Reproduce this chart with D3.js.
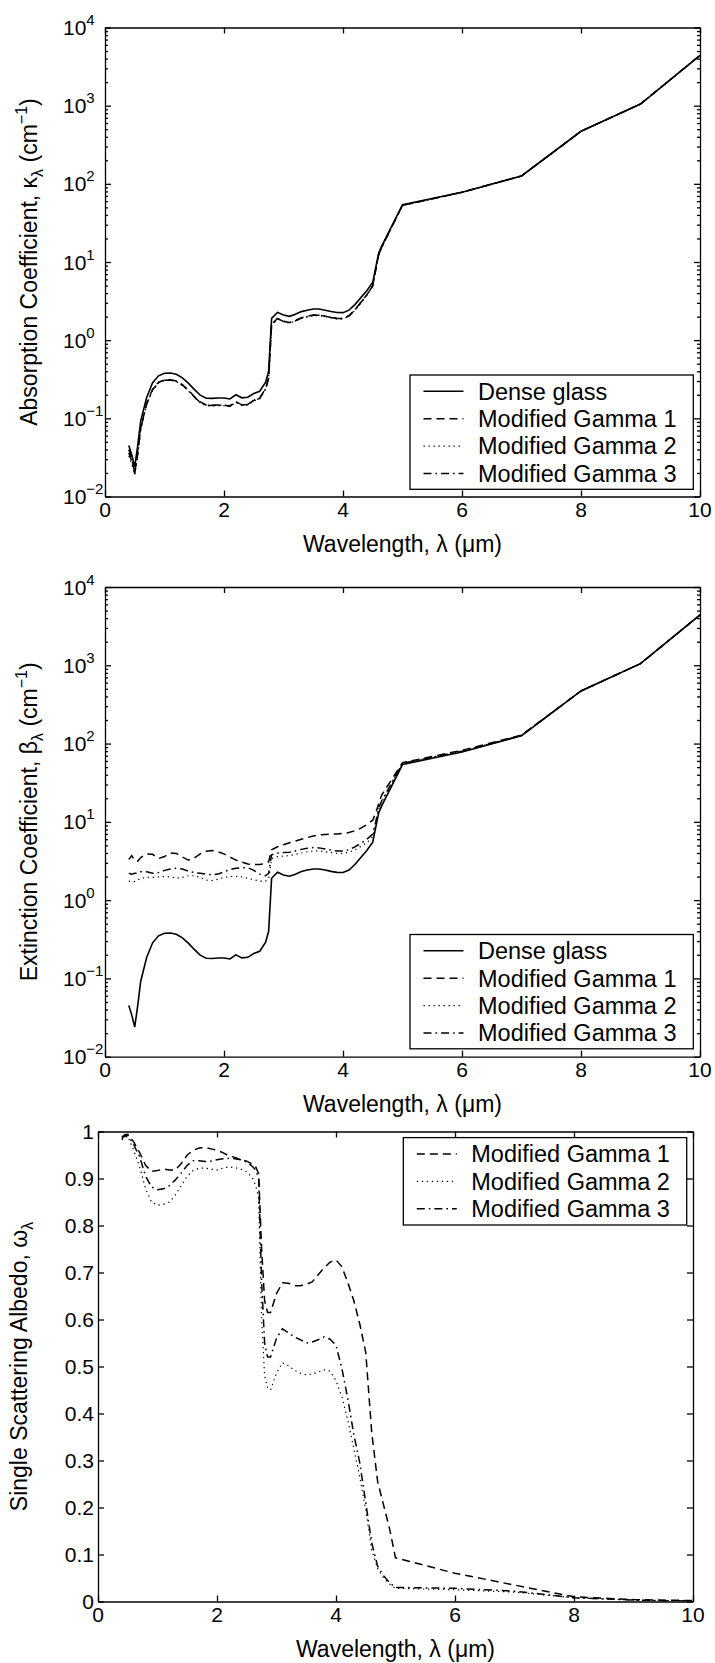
<!DOCTYPE html>
<html><head><meta charset="utf-8">
<script src="https://cdn.jsdelivr.net/npm/d3@7"></script>
<style>
body{margin:0;background:#fff}
svg text{font-family:"Liberation Sans",Arial,Helvetica,sans-serif;fill:#000}
</style>
</head><body>
<svg id="chart" width="715" height="1663"></svg>
<script>
// ---------- data ----------
const wavelength = [0.4,0.45,0.5,0.55,0.6,0.7,0.8,0.9,1.0,1.1,1.2,1.3,1.4,1.5,1.6,1.7,1.8,1.9,2.0,2.1,2.2,2.3,2.4,2.5,2.6,2.7,2.75,2.8,2.9,3.0,3.1,3.2,3.3,3.4,3.5,3.6,3.7,3.8,3.9,4.0,4.1,4.2,4.3,4.4,4.5,4.55,4.6,4.65,5.0,6,7,8,9,10];

// Dense glass: absorption = extinction (no scattering)
const denseGlass = [0.045,0.034,0.024,0.045,0.092,0.185,0.285,0.35,0.378,0.38,0.366,0.33,0.282,0.235,0.198,0.181,0.18,0.182,0.182,0.177,0.2,0.183,0.186,0.208,0.222,0.29,0.4,1.9,2.27,2.1,2.02,2.14,2.32,2.42,2.5,2.5,2.42,2.33,2.26,2.25,2.42,2.85,3.5,4.3,5.5,8.5,13,16,54,78,126,470,1050,4400];

const absorptionMG1 = [0.04,0.03,0.02,0.036,0.075,0.155,0.235,0.29,0.31,0.312,0.3,0.27,0.23,0.19,0.162,0.148,0.147,0.148,0.148,0.144,0.163,0.149,0.151,0.17,0.182,0.24,0.33,1.6,1.9,1.75,1.68,1.78,1.93,2.02,2.1,2.1,2.03,1.96,1.9,1.9,2.05,2.45,3.05,3.8,5.0,8.0,12.5,15.5,53,78,126,470,1050,4400];
const absorptionMG2 = [0.033,0.026,0.019,0.034,0.072,0.15,0.228,0.283,0.304,0.306,0.294,0.264,0.225,0.186,0.158,0.145,0.144,0.145,0.145,0.141,0.16,0.146,0.148,0.167,0.178,0.235,0.32,1.56,1.86,1.72,1.65,1.75,1.9,1.99,2.06,2.06,2.0,1.93,1.87,1.87,2.02,2.4,3.0,3.75,4.9,7.9,12.3,15.3,53,78,126,470,1050,4400];
const absorptionMG3 = [0.036,0.028,0.0195,0.035,0.074,0.153,0.232,0.287,0.307,0.309,0.297,0.267,0.228,0.188,0.16,0.147,0.146,0.147,0.147,0.143,0.162,0.148,0.15,0.169,0.18,0.238,0.325,1.58,1.88,1.74,1.67,1.77,1.92,2.0,2.08,2.08,2.02,1.95,1.89,1.89,2.04,2.43,3.03,3.78,4.95,7.95,12.4,15.4,53,78,126,470,1050,4400];

const extinctionMG1 = [3.3,3.7,3.2,3.15,3.5,3.9,3.85,3.4,3.6,4.0,3.95,3.55,3.25,3.45,3.9,4.2,4.3,4.15,3.9,3.55,3.25,3.05,2.9,2.85,2.85,2.95,3.1,4.4,4.8,5.1,5.4,5.7,6.0,6.3,6.6,6.8,6.9,6.95,7.0,7.1,7.3,7.7,8.3,9.2,10.5,13,17,22,57,82,128,470,1050,4400];
const extinctionMG2 = [1.75,1.72,1.72,1.8,1.9,1.95,1.95,1.98,2.0,1.98,1.9,1.95,2.05,2.05,1.95,1.8,1.78,1.85,1.95,2.0,2.02,1.98,1.9,1.82,1.75,1.75,1.85,3.4,3.6,3.65,3.7,3.85,4.0,4.15,4.25,4.25,4.15,4.05,3.95,3.95,4.1,4.4,4.85,5.4,6.5,9.5,14.5,18,56,80,127,470,1050,4400];
const extinctionMG3 = [2.2,2.15,2.2,2.2,2.3,2.3,2.2,2.25,2.4,2.5,2.55,2.5,2.35,2.25,2.2,2.15,2.1,2.15,2.3,2.45,2.55,2.6,2.6,2.4,2.15,2.05,2.2,3.8,4.0,4.05,4.1,4.25,4.45,4.6,4.7,4.65,4.5,4.35,4.25,4.25,4.4,4.8,5.3,6.0,7.0,10,15,18.5,56,80,127,470,1050,4400];

const wavelengthAlbedo = [0.4,0.45,0.5,0.6,0.7,0.8,0.9,1.0,1.1,1.2,1.3,1.4,1.5,1.6,1.7,1.8,1.9,2.0,2.1,2.2,2.3,2.4,2.5,2.6,2.65,2.7,2.75,2.8,2.85,2.9,3.0,3.1,3.2,3.3,3.4,3.5,3.6,3.7,3.8,3.9,4.0,4.1,4.2,4.3,4.4,4.5,4.6,4.7,4.8,4.9,5.0,6,7,8,9,10];
const albedoMG1 = [0.988,0.993,0.994,0.978,0.955,0.928,0.915,0.917,0.92,0.918,0.918,0.932,0.95,0.96,0.965,0.966,0.963,0.96,0.955,0.948,0.945,0.94,0.937,0.93,0.925,0.91,0.75,0.64,0.615,0.615,0.655,0.678,0.677,0.672,0.672,0.675,0.68,0.695,0.71,0.722,0.727,0.712,0.678,0.64,0.59,0.53,0.36,0.255,0.205,0.155,0.093,0.06,0.035,0.01,0.004,0.002];
const albedoMG2 = [0.982,0.987,0.99,0.96,0.925,0.878,0.85,0.843,0.845,0.85,0.865,0.885,0.905,0.917,0.922,0.922,0.92,0.918,0.922,0.925,0.923,0.92,0.914,0.9,0.885,0.86,0.6,0.48,0.455,0.45,0.486,0.508,0.502,0.492,0.486,0.482,0.484,0.488,0.493,0.49,0.47,0.435,0.385,0.325,0.265,0.195,0.11,0.07,0.05,0.037,0.028,0.025,0.02,0.008,0.003,0.001];
const albedoMG3 = [0.985,0.99,0.992,0.972,0.946,0.905,0.882,0.876,0.878,0.885,0.897,0.912,0.928,0.938,0.938,0.936,0.937,0.94,0.942,0.943,0.942,0.94,0.935,0.925,0.918,0.9,0.68,0.55,0.52,0.52,0.56,0.58,0.572,0.563,0.557,0.55,0.552,0.557,0.563,0.558,0.545,0.495,0.43,0.355,0.295,0.21,0.125,0.075,0.055,0.04,0.03,0.028,0.022,0.008,0.003,0.001];

const seriesNames = ["Dense glass","Modified Gamma 1","Modified Gamma 2","Modified Gamma 3"];
const xTicks = [0,2,4,6,8,10];
const xTickLabels = ["0","2","4","6","8","10"];
const logTickExponents = [-2,-1,0,1,2,3,4];
const albedoTicks = [0,0.1,0.2,0.3,0.4,0.5,0.6,0.7,0.8,0.9,1];
const albedoTickLabels = ["0","0.1","0.2","0.3","0.4","0.5","0.6","0.7","0.8","0.9","1"];

// ---------- styles ----------
const dashStyles = ["none","8,5","1.3,3.7","8,4,1.6,4"];
const lineWidths = [1.6,1.5,1.2,1.5];
const TICK_FONT = 21, LABEL_FONT = 23, LEGEND_FONT = 23.5;

const svg = d3.select("#chart");

function zip(xs, ys){ return xs.map((x,i)=>[x, ys[i]]); }

function drawPanel(cfg){
  const g = svg.append("g");
  const x = d3.scaleLinear().domain([0,10]).range([cfg.x0, cfg.x1]);
  const y = cfg.log
    ? d3.scaleLog().domain([1e-2,1e4]).range([cfg.y1, cfg.y0])
    : d3.scaleLinear().domain([0,1]).range([cfg.y1, cfg.y0]);

  const line = d3.line().x(d=>x(d[0])).y(d=>y(d[1]));
  const clipId = "clip"+cfg.id;
  svg.append("clipPath").attr("id",clipId).append("rect")
    .attr("x",cfg.x0).attr("y",cfg.y0).attr("width",cfg.x1-cfg.x0).attr("height",cfg.y1-cfg.y0);
  cfg.series.forEach(s=>{
    g.append("path").attr("d", line(zip(s.xs, s.ys)))
      .attr("clip-path",`url(#${clipId})`)
      .attr("fill","none").attr("stroke","#000")
      .attr("stroke-width", lineWidths[s.style])
      .attr("stroke-dasharray", dashStyles[s.style]);
  });

  const tv = cfg.log ? logTickExponents.map(e=>Math.pow(10,e)) : albedoTicks;
  const axStyle = a => a.call(s=>{ s.selectAll("path,line").attr("stroke","#000").attr("stroke-width",1.3); s.selectAll("text").remove(); });
  g.append("g").attr("transform",`translate(0,${cfg.y1})`)
    .call(d3.axisBottom(x).tickValues(xTicks).tickSize(-6).tickSizeOuter(0).tickFormat("")).call(axStyle);
  g.append("g").attr("transform",`translate(0,${cfg.y0})`)
    .call(d3.axisTop(x).tickValues(xTicks).tickSize(-6).tickSizeOuter(0).tickFormat("")).call(axStyle);
  g.append("g").attr("transform",`translate(${cfg.x0},0)`)
    .call(d3.axisLeft(y).tickValues(tv).tickSize(-6).tickSizeOuter(0).tickFormat("")).call(axStyle);
  g.append("g").attr("transform",`translate(${cfg.x1},0)`)
    .call(d3.axisRight(y).tickValues(tv).tickSize(-6).tickSizeOuter(0).tickFormat("")).call(axStyle);
  if(cfg.log){
    const minor = [];
    for(let e=-2;e<4;e++) for(let k=2;k<10;k++) minor.push(k*Math.pow(10,e));
    g.append("g").attr("transform",`translate(${cfg.x0},0)`)
      .call(d3.axisLeft(y).tickValues(minor).tickSize(-3).tickSizeOuter(0).tickFormat("")).call(axStyle)
      .select(".domain").remove();
    g.append("g").attr("transform",`translate(${cfg.x1},0)`)
      .call(d3.axisRight(y).tickValues(minor).tickSize(-3).tickSizeOuter(0).tickFormat("")).call(axStyle)
      .select(".domain").remove();
  }

  g.selectAll(null).data(xTicks).enter().append("text")
    .attr("x",d=>x(d)).attr("y",cfg.y1+20).attr("text-anchor","middle")
    .attr("font-size",TICK_FONT).text((d,i)=>xTickLabels[i]);

  if(cfg.log){
    logTickExponents.forEach(e=>{
      const t = g.append("text").attr("x",63).attr("y",y(Math.pow(10,e))+7.5).attr("font-size",TICK_FONT);
      t.append("tspan").text("10");
      t.append("tspan").attr("dy",-10).attr("font-size",15).text(e<0 ? "\u2212"+(-e) : String(e));
    });
  } else {
    g.selectAll(null).data(albedoTicks).enter().append("text")
      .attr("x",cfg.x0-4).attr("y",d=>y(d)+7.5).attr("text-anchor","end")
      .attr("font-size",TICK_FONT).text((d,i)=>albedoTickLabels[i]);
  }

  g.append("text").attr("x",(cfg.x0+cfg.x1)/2).attr("y",cfg.y1+55)
    .attr("text-anchor","middle").attr("font-size",LABEL_FONT)
    .text("Wavelength, \u03bb (\u03bcm)");

  const yl = g.append("text").attr("text-anchor","middle").attr("font-size",LABEL_FONT)
    .attr("transform",`translate(${cfg.ylx},${(cfg.y0+cfg.y1)/2}) rotate(-90)`);
  yl.append("tspan").text(cfg.ylabel);
  yl.append("tspan").attr("dy",6).attr("font-size",16).text("\u03bb");
  if(cfg.log){
    yl.append("tspan").attr("dy",-6).text("  (cm");
    yl.append("tspan").attr("dy",-10).attr("font-size",16).text("\u22121");
    yl.append("tspan").attr("dy",10).text(")");
  }

  const L = cfg.legend;
  const lg = g.append("g");
  lg.append("rect").attr("x",L.x).attr("y",L.y).attr("width",L.w).attr("height",L.h)
    .attr("fill","#fff").attr("stroke","#000").attr("stroke-width",1.3);
  L.items.forEach((it,i)=>{
    const cy = L.y + 2.6 + 27.4*(i+0.5);
    lg.append("line").attr("x1",L.x+13.5).attr("x2",L.x+53.5).attr("y1",cy).attr("y2",cy)
      .attr("stroke","#000").attr("stroke-width",lineWidths[it.style]).attr("stroke-dasharray",dashStyles[it.style]);
    lg.append("text").attr("x",L.x+68).attr("y",cy+8.3).attr("font-size",LEGEND_FONT).text(seriesNames[it.style]);
  });
}

drawPanel({id:1, x0:105, x1:700, y0:27.5, y1:496.5, log:true, ylx:37,
  ylabel:"Absorption Coefficient, \u03ba",
  series:[
    {xs:wavelength, ys:absorptionMG2, style:2},
    {xs:wavelength, ys:absorptionMG3, style:3},
    {xs:wavelength, ys:absorptionMG1, style:1},
    {xs:wavelength, ys:denseGlass, style:0}],
  legend:{x:410, y:375, w:283.3, h:114.3, items:[{style:0},{style:1},{style:2},{style:3}]}});

drawPanel({id:2, x0:105, x1:700, y0:587, y1:1056.7, log:true, ylx:37,
  ylabel:"Extinction Coefficient, \u03b2",
  series:[
    {xs:wavelength, ys:extinctionMG2, style:2},
    {xs:wavelength, ys:extinctionMG3, style:3},
    {xs:wavelength, ys:extinctionMG1, style:1},
    {xs:wavelength, ys:denseGlass, style:0}],
  legend:{x:410, y:934.5, w:283.3, h:114.3, items:[{style:0},{style:1},{style:2},{style:3}]}});

drawPanel({id:3, x0:98, x1:693, y0:1131.5, y1:1601.5, log:false, ylx:27,
  ylabel:"Single Scattering Albedo, \u03c9",
  series:[
    {xs:wavelengthAlbedo, ys:albedoMG2, style:2},
    {xs:wavelengthAlbedo, ys:albedoMG3, style:3},
    {xs:wavelengthAlbedo, ys:albedoMG1, style:1}],
  legend:{x:403.3, y:1137.6, w:283.4, h:87.4, items:[{style:0},{style:1},{style:2}].map((d,i)=>({style:i+1}))}});
</script>
</body></html>
